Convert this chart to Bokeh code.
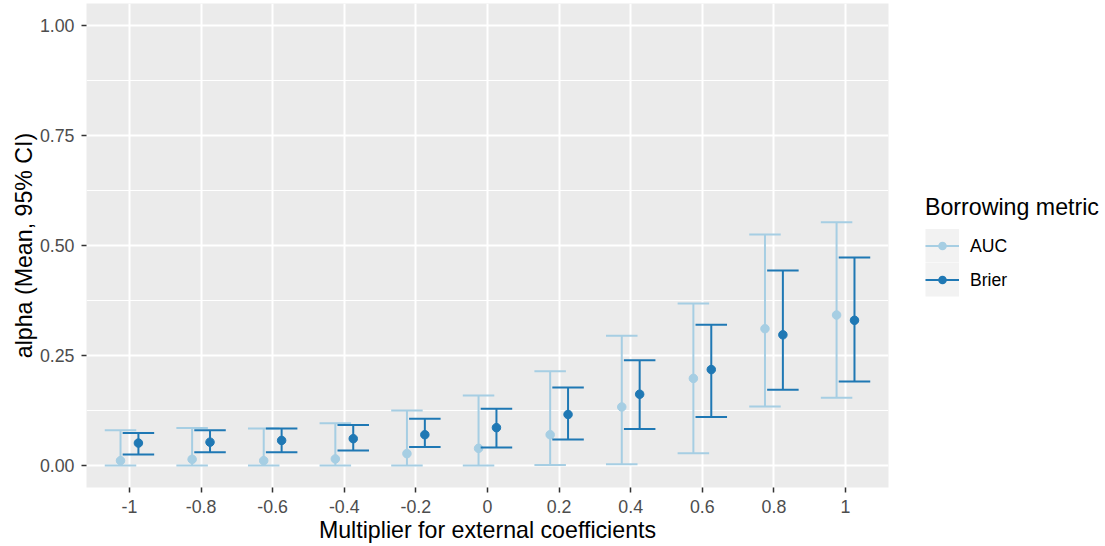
from bokeh.plotting import figure
from bokeh.models import (FixedTicker, Legend, LegendItem, Range1d,
                          CustomJSTickFormatter, NumeralTickFormatter)
from bokeh.embed import file_html
from bokeh.resources import INLINE

# ---- data -------------------------------------------------------------
multipliers = [-1, -0.8, -0.6, -0.4, -0.2, 0, 0.2, 0.4, 0.6, 0.8, 1]
x_labels = ["-1", "-0.8", "-0.6", "-0.4", "-0.2", "0", "0.2", "0.4", "0.6", "0.8", "1"]

auc_mean = [0.011, 0.014, 0.011, 0.015, 0.027, 0.039, 0.070, 0.133, 0.198, 0.311, 0.342]
auc_lower = [0.0, 0.0, 0.0, 0.0, 0.0, 0.0, 0.001, 0.003, 0.028, 0.134, 0.154]
auc_upper = [0.080, 0.085, 0.084, 0.096, 0.125, 0.159, 0.214, 0.295, 0.368, 0.525, 0.553]

brier_mean = [0.051, 0.053, 0.057, 0.061, 0.070, 0.086, 0.116, 0.162, 0.218, 0.297, 0.330]
brier_lower = [0.025, 0.030, 0.030, 0.034, 0.042, 0.041, 0.059, 0.083, 0.110, 0.172, 0.191]
brier_upper = [0.074, 0.080, 0.084, 0.092, 0.106, 0.129, 0.177, 0.239, 0.320, 0.443, 0.473]

y_ticks = [0, 0.25, 0.5, 0.75, 1.0]
y_minor = [0.125, 0.375, 0.625, 0.875]

AUC_COLOR = "#A6CEE3"
BRIER_COLOR = "#1F78B4"
KEY_BG = "#F2F2F2"
FONT = "Liberation Sans"
DODGE = 0.025
CAP = 0.044

# ---- figure -----------------------------------------------------------
p = figure(frame_width=802, frame_height=484,
           x_range=Range1d(-1.12, 1.12), y_range=Range1d(-0.05, 1.05),
           min_border_left=86, min_border_right=217,
           min_border_top=3, min_border_bottom=59,
           output_backend="svg", toolbar_location=None)

p.background_fill_color = "#EBEBEB"
p.border_fill_color = "white"
p.outline_line_color = None

p.xgrid.grid_line_color = "white"
p.xgrid.grid_line_width = 2
p.ygrid.grid_line_color = "white"
p.ygrid.grid_line_width = 2
p.ygrid.minor_grid_line_color = "white"
p.ygrid.minor_grid_line_width = 1

p.xaxis.ticker = FixedTicker(ticks=multipliers, minor_ticks=[])
p.xaxis.formatter = CustomJSTickFormatter(args=dict(labels=x_labels),
                                          code="return labels[index];")
p.yaxis.ticker = FixedTicker(ticks=y_ticks, minor_ticks=y_minor)
p.yaxis.formatter = NumeralTickFormatter(format="0.00")

for ax in (p.xaxis[0], p.yaxis[0]):
    ax.axis_line_color = None
    ax.major_tick_line_color = "#333333"
    ax.major_tick_line_width = 1.5
    ax.major_tick_out = 5
    ax.major_tick_in = 0
    ax.minor_tick_line_color = None
    ax.major_label_text_color = "#4D4D4D"
    ax.major_label_text_font = FONT
    ax.major_label_text_font_size = "17.8px"
    ax.axis_label_text_font = FONT
    ax.axis_label_text_font_size = "23.2px"
    ax.axis_label_text_font_style = "normal"
    ax.axis_label_text_color = "black"

p.xaxis.axis_label = "Multiplier for external coefficients"
p.yaxis.axis_label = "alpha (Mean, 95% CI)"
p.xaxis.major_label_standoff = 7
p.xaxis.axis_label_standoff = 1
p.yaxis.major_label_standoff = 7
p.yaxis.axis_label_standoff = 0


def draw(mean, lower, upper, color, dx):
    xs = [m + dx for m in multipliers]
    seg = p.segment(x0=xs, y0=lower, x1=xs, y1=upper, line_color=color, line_width=2)
    p.segment(x0=[x - CAP for x in xs], y0=upper, x1=[x + CAP for x in xs], y1=upper,
              line_color=color, line_width=2)
    p.segment(x0=[x - CAP for x in xs], y0=lower, x1=[x + CAP for x in xs], y1=lower,
              line_color=color, line_width=2)
    p.scatter(xs, mean, size=8.5, fill_color=color, line_color=color)
    return seg


auc_seg = draw(auc_mean, auc_lower, auc_upper, AUC_COLOR, -DODGE)
brier_seg = draw(brier_mean, brier_lower, brier_upper, BRIER_COLOR, DODGE)

# legend-only helper renderers (NaN data, nothing drawn in the plot area)
nan = float("nan")
key_bg = p.segment(x0=[nan], y0=[nan], x1=[nan], y1=[nan], line_color=KEY_BG,
                   line_width=34, line_cap="butt")
auc_key_dot = p.scatter([nan], [nan], fill_color=AUC_COLOR, line_color=KEY_BG, line_width=5)
brier_key_dot = p.scatter([nan], [nan], fill_color=BRIER_COLOR, line_color=KEY_BG, line_width=5)

legend = Legend(items=[LegendItem(label="AUC", renderers=[key_bg, auc_key_dot, auc_seg]),
                       LegendItem(label="Brier", renderers=[key_bg, brier_key_dot, brier_seg])],
                title="Borrowing metric", location="center_left")
legend.title_text_font = FONT
legend.title_text_font_size = "23.2px"
legend.title_text_font_style = "normal"
legend.title_text_color = "black"
legend.title_standoff = 8
legend.label_text_font = FONT
legend.label_text_font_size = "17.6px"
legend.label_text_color = "black"
legend.glyph_width = 34
legend.glyph_height = 34
legend.label_height = 34
legend.label_standoff = 11
legend.spacing = 0
legend.padding = 0
legend.margin = 37
legend.background_fill_alpha = 0
legend.border_line_alpha = 0
p.add_layout(legend, "right")

open("out.html", "w").write(file_html(p, INLINE))
